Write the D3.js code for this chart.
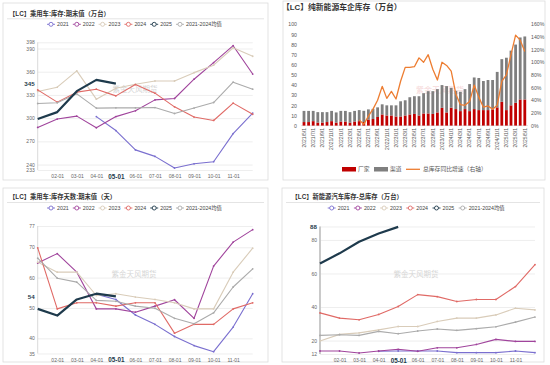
<!DOCTYPE html>
<html><head><meta charset="utf-8">
<script src="https://cdn.jsdelivr.net/npm/d3@7"></script>
<style>
body{margin:0;background:#fff}
svg{display:block}
text{font-family:"Liberation Sans","Noto Sans CJK SC",sans-serif}
</style>
</head><body>
<svg id="c" width="550" height="365"></svg>
<script>
// ---------- shared categories ----------
const months = ["01-01","02-01","03-01","04-01","05-01","06-01","07-01","08-01","09-01","10-01","11-01","12-01"];
const shownMonthTicks = ["02-01","03-01","04-01","05-01","06-01","07-01","08-01","09-01","10-01","11-01"];
const seriesNames = ["2021","2022","2023","2024","2025","2021-2024均值"];

// ---------- panel 1: 乘用车库存 期末值 (万台) ----------
const inv2021 = [null,null,null,302,284,259,250.6,235.6,241,243.7,280,306.5];
const inv2022 = [288,298.8,302.6,287.6,302,309.5,323.6,325.4,350.3,371.7,393.6,357];
const inv2023 = [334.4,340,361,324.5,338.7,343.9,348,348,358.8,368.4,391,380];
const inv2024 = [336.5,320.7,333.6,337.4,328.8,343.4,332.3,314.6,301.4,297,319.4,305];
const inv2025 = [298.8,307.8,334.9,349.4,344.6];
const invAvg  = [318.9,319.8,331.4,313,313.3,313.3,313.7,306,313,320.2,346.5,337.4];
const invTicks = [233,240,270,300,330,360,390,398];

// ---------- panel 3: 乘用车库存天数 (天) ----------
const days2021 = [null,null,null,54.5,52.8,47.7,44.6,40.6,37.6,35.6,43.7,54.7];
const days2022 = [64.8,67.9,61.8,49.7,49.7,48.6,50.6,52.7,46.6,63.8,71.7,75.8];
const days2023 = [65.1,61.8,61.8,54.1,54.7,53.6,52.8,51.7,49.7,49.7,61.8,69.7];
const days2024 = [69.8,49.7,51.7,51.7,50.6,51.7,51.7,41.7,44.6,44.6,49.7,51.7];
const days2025 = [49.7,47.5,52.8,54.7,53.8];
const daysAvg  = [66.4,59.8,58.5,52.5,52.2,50.6,49.9,46.6,44.8,48.4,56.9,62.9];
const daysTicks = [35,40,50,60,70,77];

// ---------- panel 4: 新能源汽车库存-总库存 (万台) ----------
const nev2021 = [null,null,null,13.6,13.8,13.8,13.8,12.8,12.8,12.8,13.8,12.8];
const nev2022 = [13.8,13.8,12.6,13.8,14.8,13.6,15.7,15.7,17.7,20.7,19.5,19.5];
const nev2023 = [19.7,23.7,24.6,26.4,28.4,28.4,31.4,33.4,33.4,35.3,39.3,38.3];
const nev2024 = [36.5,33.4,32.4,35.6,40.3,47.4,46.2,43.3,44.5,44.5,52.2,65.3];
const nev2025 = [66,72,78.9,83.8,87.8];
const nevAvg  = [23.1,23.5,23.1,25.5,24.1,25.7,26.9,26.1,27.1,28.2,31,34];
const nevTicks = [12,20,40,60,80];

// ---------- panel 2: 纯新能源车企库存 ----------
const dates = ["2021/5/1","2021/6/1","2021/7/1","2021/8/1","2021/9/1","2021/10/1","2021/11/1","2021/12/1",
 "2022/1/1","2022/2/1","2022/3/1","2022/4/1","2022/5/1","2022/6/1","2022/7/1","2022/8/1","2022/9/1","2022/10/1","2022/11/1","2022/12/1",
 "2023/1/1","2023/2/1","2023/3/1","2023/4/1","2023/5/1","2023/6/1","2023/7/1","2023/8/1","2023/9/1","2023/10/1","2023/11/1","2023/12/1",
 "2024/1/1","2024/2/1","2024/3/1","2024/4/1","2024/5/1","2024/6/1","2024/7/1","2024/8/1","2024/9/1","2024/10/1","2024/11/1","2024/12/1",
 "2025/1/1","2025/2/1","2025/3/1","2025/4/1","2025/5/1"];
const factory = [3.5,3.5,4.4,3,3,3.5,4.4,3,4,4,3,4,4.4,3.5,6,6.5,8.5,11,10,10,9,9,10,11,11.5,10,12,12,11.5,13,17.5,13,17.6,16.3,14.3,16.3,14.3,16.3,15.3,15.3,15.3,16,18,23.5,15.3,20,22.5,25.8,25.8];
const channel = [11,11,10.1,10.3,10.3,9.8,10.1,10,10.5,10.5,10.3,10.5,10.9,11.1,10,10,9.5,10,10,10,11,15,15,17,17.5,19,20,22,22.5,23,22.5,26,19.7,18.1,19.1,19.7,26.7,31.2,31.7,28.7,29.7,29,35,42.1,51.7,54,57.5,61.2,62.2];
const growth = [null,null,null,null,null,null,null,null,null,null,null,null,
 9,2,15,26,40,62,43,54,42,70,92,92,93,107,100,112,89,72,100,95,86,50,33,32,38,64,45,29,31,26,32,70,80,112,143,135,117];
const leftTicks = [0,10,20,30,40,50,60,70,80,90,100];
const rightTicks = [0,20,40,60,80,100,120,140,160];

// ---------- styling ----------
const colors = ["#7a6fcf","#a0449c","#d9ccb9","#e06a66","#1e3a4c","#ababab"];
const navy = "#1e3a4c";
const svg = d3.select("#c");
svg.append("rect").attr("width",550).attr("height",365).attr("fill","#fff");

function panelFrame(x0,y0,x1,y1){
  svg.append("rect").attr("x",x0).attr("y",y0).attr("width",x1-x0).attr("height",y1-y0)
    .attr("fill","#fff").attr("stroke","#dcdcdc").attr("stroke-width",0.8);
}

function legend(x,y,gap){
  let cx = x;
  seriesNames.forEach((n,i)=>{
    const g = svg.append("g");
    g.append("line").attr("x1",cx).attr("x2",cx+8).attr("y1",y).attr("y2",y)
      .attr("stroke",colors[i]).attr("stroke-width",0.9);
    g.append("circle").attr("cx",cx+4).attr("cy",y).attr("r",2).attr("fill","#fff")
      .attr("stroke",colors[i]).attr("stroke-width",0.9);
    const t = g.append("text").attr("x",cx+10).attr("y",y).attr("dy","0.35em")
      .attr("font-size",5.3).attr("fill","#444").text(n);
    cx += 10 + t.node().getComputedTextLength() + gap;
  });
}

function linePanel(o){
  panelFrame(o.fx0,o.fy0,o.fx1,o.fy1);
  svg.append("text").attr("x",o.tx).attr("y",o.ty).attr("dy","0.35em")
    .attr("font-size",6.3).attr("font-weight","bold").attr("fill","#333").text(o.title);
  svg.append("line").attr("x1",o.fx0+4).attr("x2",o.fx1-4).attr("y1",o.ty+5.5).attr("y2",o.ty+5.5)
    .attr("stroke","#d8d8d8").attr("stroke-width",0.7);
  legend(o.lx,o.ty+11,o.lgap);

  const x = d3.scalePoint().domain(months).range([o.x0,o.x1]);
  const y = d3.scaleLinear().domain(o.domain).range([o.yb,o.yt]);

  const gAxis = svg.append("g").attr("transform",`translate(${o.x0},0)`)
    .call(d3.axisLeft(y).tickValues(o.ticks).tickSize(-(o.x1-o.x0)).tickPadding(3));
  gAxis.select(".domain").remove();
  gAxis.selectAll(".tick line").attr("stroke","#e6e6e6").attr("stroke-width",0.7);
  gAxis.selectAll(".tick text").attr("font-size",5).attr("fill","#666").attr("font-family",null);
  svg.append("line").attr("x1",o.x0).attr("x2",o.x0).attr("y1",o.yt).attr("y2",o.yb)
    .attr("stroke",o.axisColor).attr("stroke-width",o.axisWidth);

  const gx = svg.append("g").attr("transform",`translate(0,${o.yb})`)
    .call(d3.axisBottom(x).tickValues(shownMonthTicks).tickSize(0).tickPadding(4.5));
  gx.select(".domain").remove();
  gx.selectAll(".tick text").attr("font-size",5).attr("fill","#666").attr("font-family",null)
    .filter(d=>d==="05-01").attr("font-size",6.3).attr("font-weight","bold").attr("fill",navy);

  svg.append("text").attr("x",o.wx).attr("y",o.wy).attr("text-anchor","middle").attr("dy","0.35em")
    .attr("font-size",7.5).attr("fill","#d6d6d6").text("紫金天风期货");

  const line = d3.line().defined(d=>d[1]!=null).x(d=>x(d[0])).y(d=>y(d[1]));
  const order = [0,1,2,3,5,4];
  order.forEach(i=>{
    const pts = o.data[i].map((v,j)=>[months[j],v]);
    svg.append("path").attr("d",line(pts)).attr("fill","none")
      .attr("stroke",colors[i]).attr("stroke-width",i===4?2.2:1.1).attr("stroke-linejoin","round");
    if(i!==4){
      svg.append("g").selectAll("circle").data(pts.filter(p=>p[1]!=null)).join("circle")
        .attr("cx",p=>x(p[0])).attr("cy",p=>y(p[1])).attr("r",0.9).attr("fill",colors[i]);
    }
  });

  svg.append("text").attr("x",o.x0-3).attr("y",y(o.bold[1])).attr("dy","0.35em")
    .attr("text-anchor","end").attr("font-size",6.2).attr("font-weight","bold").attr("fill",navy)
    .text(o.bold[0]);
}

linePanel({fx0:3,fy0:3,fx1:268,fy1:180,tx:9,ty:13.3,lx:47,lgap:4,
  title:"【LC】乘用车:库存:期末值（万台）",
  x0:37.7,x1:252.7,yt:42.3,yb:170,domain:[233,398],ticks:invTicks,
  axisColor:"#cfcfcf",axisWidth:0.8,wx:135,wy:89,
  data:[inv2021,inv2022,inv2023,inv2024,inv2025,invAvg],bold:["345",inv2025[4]]});

linePanel({fx0:3,fy0:188,fx1:268,fy1:362,tx:9,ty:197,lx:47,lgap:4,
  title:"【LC】乘用车:库存天数:期末值（天）",
  x0:37.7,x1:252.7,yt:226,yb:353.5,domain:[35,77],ticks:daysTicks,
  axisColor:"#cfcfcf",axisWidth:0.8,wx:134,wy:274,
  data:[days2021,days2022,days2023,days2024,days2025,daysAvg],bold:["54",days2025[4]]});

linePanel({fx0:282,fy0:188,fx1:544,fy1:362,tx:291.5,ty:197,lx:327.7,lgap:4.4,
  title:"【LC】新能源汽车库存-总库存（万台）",
  x0:320,x1:535,yt:226.5,yb:354,domain:[12,88],ticks:nevTicks.concat([88]),
  axisColor:"#c4c4c4",axisWidth:1.8,wx:416,wy:274,
  data:[nev2021,nev2022,nev2023,nev2024,nev2025,nevAvg],bold:["88",nev2025[4]]});
svg.selectAll(".tick text").filter(function(d){return d===88;}).remove();

// ---------- panel 2 ----------
panelFrame(283,1,545,180);
svg.append("text").attr("x",282).attr("y",7.5).attr("dy","0.35em")
  .attr("font-size",7.8).attr("font-weight","bold").attr("fill","#333").text("【LC】纯新能源车企库存（万台）");

const xb = d3.scalePoint().domain(dates).range([304,524.8]);
const yl = d3.scaleLinear().domain([0,100]).range([125.6,24.3]);
const yr = d3.scaleLinear().domain([0,160]).range([125.6,24.3]);
const bw = 2.8;

svg.append("text").attr("x",440).attr("y",90).attr("text-anchor","middle").attr("dy","0.35em")
  .attr("font-size",8).attr("fill","rgba(220,110,110,0.22)").attr("font-weight","bold").text("紫金天风期货");

const gl = svg.append("g").attr("transform","translate(299,0)")
  .call(d3.axisLeft(yl).tickValues(leftTicks).tickSize(0).tickPadding(2));
gl.select(".domain").remove();
gl.selectAll("text").attr("font-size",5.2).attr("fill","#595959").attr("font-family",null);

const gr = svg.append("g").attr("transform","translate(529,0)")
  .call(d3.axisRight(yr).tickValues(rightTicks).tickSize(0).tickPadding(2).tickFormat(d=>d+"%"));
gr.select(".domain").remove();
gr.selectAll("text").attr("font-size",5.2).attr("fill","#595959").attr("font-family",null);

svg.append("line").attr("x1",301).attr("x2",528).attr("y1",yl(0)).attr("y2",yl(0))
  .attr("stroke","#d9d9d9").attr("stroke-width",0.7);

svg.append("g").selectAll("rect").data(dates).join("rect")
  .attr("x",d=>xb(d)-bw/2).attr("width",bw)
  .attr("y",(d,i)=>yl(factory[i])).attr("height",(d,i)=>yl(0)-yl(factory[i]))
  .attr("fill","#c00000");
svg.append("g").selectAll("rect").data(dates).join("rect")
  .attr("x",d=>xb(d)-bw/2).attr("width",bw)
  .attr("y",(d,i)=>yl(factory[i]+channel[i])).attr("height",(d,i)=>yl(factory[i])-yl(factory[i]+channel[i]))
  .attr("fill","#7f7f7f");

svg.append("path").attr("fill","none").attr("stroke","#ed7d31").attr("stroke-width",1.3)
  .attr("stroke-linejoin","round")
  .attr("d",d3.line().defined(d=>d[1]!=null).x(d=>xb(d[0])).y(d=>yr(d[1]))(dates.map((d,i)=>[d,growth[i]])));

svg.append("g").selectAll("text").data(dates.filter((d,i)=>i%2===0)).join("text")
  .attr("transform",d=>`translate(${xb(d)},128) rotate(-90)`)
  .attr("text-anchor","end").attr("dy","0.35em").attr("font-size",5).attr("fill","#595959").text(d=>d);

const lg = svg.append("g");
lg.append("rect").attr("x",342).attr("y",167).attr("width",14).attr("height",4.5).attr("fill","#c00000");
lg.append("text").attr("x",358).attr("y",169.3).attr("dy","0.35em").attr("font-size",5.8).attr("fill","#595959").text("厂家");
lg.append("rect").attr("x",374).attr("y",167).attr("width",14).attr("height",4.5).attr("fill","#7f7f7f");
lg.append("text").attr("x",390).attr("y",169.3).attr("dy","0.35em").attr("font-size",5.8).attr("fill","#595959").text("渠道");
lg.append("line").attr("x1",406).attr("x2",420).attr("y1",169.3).attr("y2",169.3).attr("stroke","#ed7d31").attr("stroke-width",1.3);
lg.append("text").attr("x",423).attr("y",169.3).attr("dy","0.35em").attr("font-size",5.8).attr("fill","#595959").text("总库存同比增速（右轴）");
</script>
</body></html>
